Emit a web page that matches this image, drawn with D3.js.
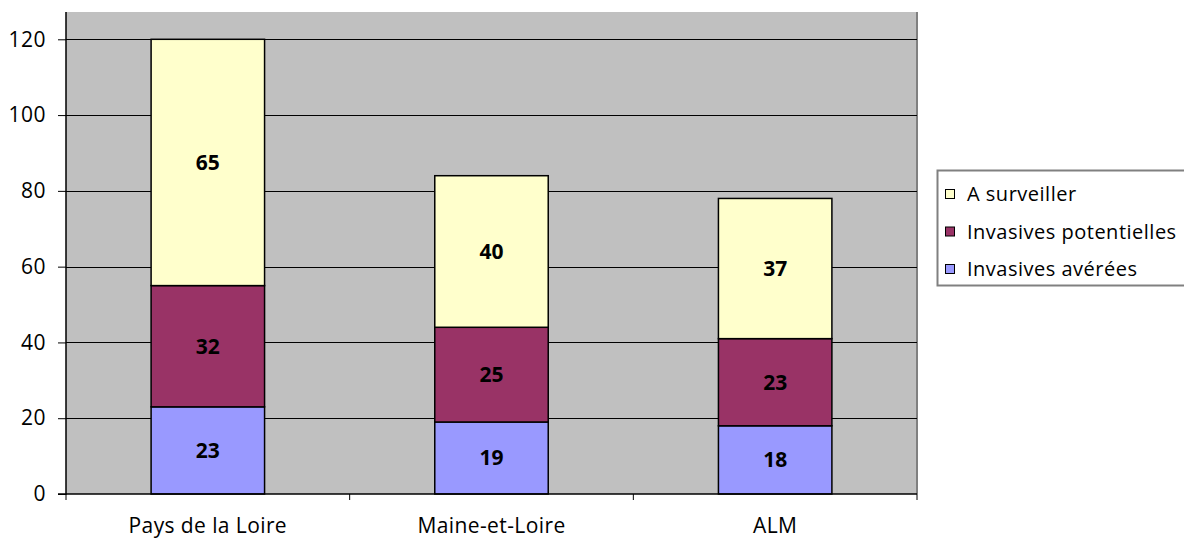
<!DOCTYPE html>
<html>
<head>
<meta charset="utf-8">
<script src="https://cdn.jsdelivr.net/npm/d3@7"></script>
<style>
  body { margin: 0; background: #fff; }
  svg text { font-family: "Open Sans", sans-serif; fill: #000; }
</style>
</head>
<body>
<svg id="chart" width="1184" height="540"></svg>
<script>
const categories = ["Pays de la Loire", "Maine-et-Loire", "ALM"]
const seriesNames = ["Invasives avérées", "Invasives potentielles", "A surveiller"]
const averees = [23, 19, 18]
const potentielles = [32, 25, 23]
const surveiller = [65, 40, 37]
const yTicks = [0, 20, 40, 60, 80, 100, 120]

const colors = ["#9999ff", "#993366", "#ffffcc"]

// plot area
const layout = { left: 66, right: 917, top: 12, bottom: 494 }

const data = categories.map((c, i) => ({
    cat: c,
    "Invasives avérées": averees[i],
    "Invasives potentielles": potentielles[i],
    "A surveiller": surveiller[i]
}))

const stacked = d3.stack().keys(seriesNames)(data)

const svg = d3.select("#chart")

const xScale = d3.scaleBand()
    .domain(categories)
    .range([layout.left, layout.right])
    .paddingInner(0.6)
    .paddingOuter(0.3)

const yScale = d3.scaleLinear()
    .domain([0, 120])
    .range([layout.bottom, 39.3])

const color = d3.scaleOrdinal().domain(seriesNames).range(colors)

// background
svg.append("rect")
    .attr("x", layout.left)
    .attr("y", layout.top)
    .attr("width", layout.right - layout.left)
    .attr("height", layout.bottom - layout.top)
    .attr("fill", "#c0c0c0")

// right border of plot area
svg.append("line")
    .attr("x1", layout.right).attr("x2", layout.right)
    .attr("y1", layout.top).attr("y2", layout.bottom)
    .attr("stroke", "#808080")
    .attr("stroke-width", 2)

// gridlines
svg.append("g")
    .selectAll("line")
    .data(yTicks.filter(t => t > 0))
    .join("line")
    .attr("x1", layout.left).attr("x2", layout.right)
    .attr("y1", d => Math.round(yScale(d)) + 0.5)
    .attr("y2", d => Math.round(yScale(d)) + 0.5)
    .attr("stroke", "#000")
    .attr("stroke-width", 1)

// bars
svg.append("g")
    .selectAll("g")
    .data(stacked)
    .join("g")
    .attr("fill", d => color(d.key))
    .selectAll("rect")
    .data(d => d)
    .join("rect")
    .attr("x", d => xScale(d.data.cat))
    .attr("y", d => yScale(d[1]))
    .attr("width", xScale.bandwidth())
    .attr("height", d => yScale(d[0]) - yScale(d[1]))
    .attr("stroke", "#000")
    .attr("stroke-width", 1.5)

// value labels
svg.append("g")
    .selectAll("g")
    .data(stacked)
    .join("g")
    .selectAll("text")
    .data(d => d)
    .join("text")
    .attr("x", d => xScale(d.data.cat) + xScale.bandwidth() / 2)
    .attr("y", d => (yScale(d[0]) + yScale(d[1])) / 2)
    .attr("dy", "0.35em")
    .attr("text-anchor", "middle")
    .attr("font-weight", "bold")
    .attr("font-size", "21px")
    .text(d => d[1] - d[0])

// y axis
const yAxis = d3.axisLeft(yScale)
    .tickValues(yTicks)
    .tickSize(8)
    .tickPadding(12)
svg.append("g")
    .attr("transform", `translate(${layout.left},0)`)
    .call(yAxis)
    .call(g => g.attr("font-family", null).attr("font-size", null))
    .call(g => g.select(".domain").attr("d", `M-8,${layout.bottom}H0V${layout.top}`).attr("stroke-width", 1.5))
    .call(g => g.selectAll("text").attr("font-size", "21px").attr("letter-spacing", "0.5px"))

// x axis
svg.append("line")
    .attr("x1", layout.left).attr("x2", layout.right)
    .attr("y1", layout.bottom).attr("y2", layout.bottom)
    .attr("stroke", "#000")
    .attr("stroke-width", 1.5)

const step = (layout.right - layout.left) / categories.length
svg.append("g")
    .selectAll("line")
    .data(d3.range(categories.length + 1))
    .join("line")
    .attr("x1", i => layout.left + i * step)
    .attr("x2", i => layout.left + i * step)
    .attr("y1", layout.bottom)
    .attr("y2", layout.bottom + 6)
    .attr("stroke", "#000")

svg.append("g")
    .selectAll("text")
    .data(categories)
    .join("text")
    .attr("x", d => xScale(d) + xScale.bandwidth() / 2)
    .attr("y", 533)
    .attr("text-anchor", "middle")
    .attr("font-size", "21px")
    .attr("letter-spacing", "0.4px")
    .text(d => d)

// legend
const legend = svg.append("g")
legend.append("rect")
    .attr("x", 937.5)
    .attr("y", 170.5)
    .attr("width", 260)
    .attr("height", 115)
    .attr("fill", "#fff")
    .attr("stroke", "#808080")
    .attr("stroke-width", 2)

const legendItems = legend.selectAll("g.item")
    .data(seriesNames.slice().reverse())
    .join("g")
    .attr("class", "item")
    .attr("transform", (d, i) => `translate(945, ${194 + i * 37.5})`)

legendItems.append("rect")
    .attr("x", 0.5)
    .attr("y", -4.5)
    .attr("width", 9)
    .attr("height", 9)
    .attr("fill", d => color(d))
    .attr("stroke", "#000")
    .attr("stroke-width", 1)

legendItems.append("text")
    .attr("x", 22)
    .attr("dy", "0.35em")
    .attr("font-size", "20px")
    .attr("letter-spacing", "0.5px")
    .text(d => d)
</script>
</body>
</html>
